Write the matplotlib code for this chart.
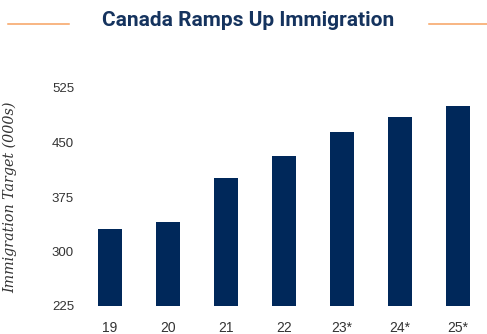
import matplotlib
matplotlib.use("Agg")
import matplotlib.pyplot as plt
from matplotlib.lines import Line2D

# Canadian immigration level targets (thousands of permanent residents)
years = ["19", "20", "21", "22", "23*", "24*", "25*"]
targets = [330.8, 341.0, 401.0, 431.6, 465.0, 485.0, 500.0]
y_ticks = [225, 300, 375, 450, 525]

NAVY = "#00285A"
TITLE_NAVY = "#15335E"
ORANGE = "#F7A261"
TEXT = "#333333"

W, H = 487, 334
fig = plt.figure(figsize=(W / 100, H / 100), dpi=100)

# axes placed in pixel terms
left, right, top, bottom = 81, 487, 88, 306
ax = fig.add_axes([left / W, (H - bottom) / H, (right - left) / W, (bottom - top) / H])

ax.bar(range(len(years)), targets, width=0.42, bottom=0, color=NAVY)
ax.set_xlim(-0.5, len(years) - 0.5)
ax.set_ylim(225, 525)
ax.set_yticks(y_ticks)
ax.set_yticklabels([str(t) for t in y_ticks], fontsize=9.5, color=TEXT,
                   family="Liberation Sans")
ax.set_xticks(range(len(years)))
ax.set_xticklabels(years, fontsize=10, color=TEXT, family="Liberation Sans")
ax.tick_params(axis="y", length=0, pad=5)
ax.tick_params(axis="x", length=0, pad=11)
for s in ax.spines.values():
    s.set_visible(False)

ax.set_ylabel("Immigration Target (000s)", fontsize=10.3, family="DejaVu Serif",
              style="italic", color=TEXT)
ax.yaxis.set_label_coords((17 - left) / (right - left), (H - 197 - (H - bottom)) / (bottom - top))

# Title with orange rules on either side
fig.text(248 / W, 1 - 21 / H, "Canada Ramps Up Immigration", ha="center", va="center",
         fontsize=15, fontweight="bold", family="Roboto", color=TITLE_NAVY)
for x0, x1 in [(8, 69), (429, 487)]:
    fig.add_artist(Line2D([x0 / W, x1 / W], [1 - 24 / H, 1 - 24 / H],
                          transform=fig.transFigure, color=ORANGE, lw=1.1))

fig.savefig("out.png", dpi=100)
